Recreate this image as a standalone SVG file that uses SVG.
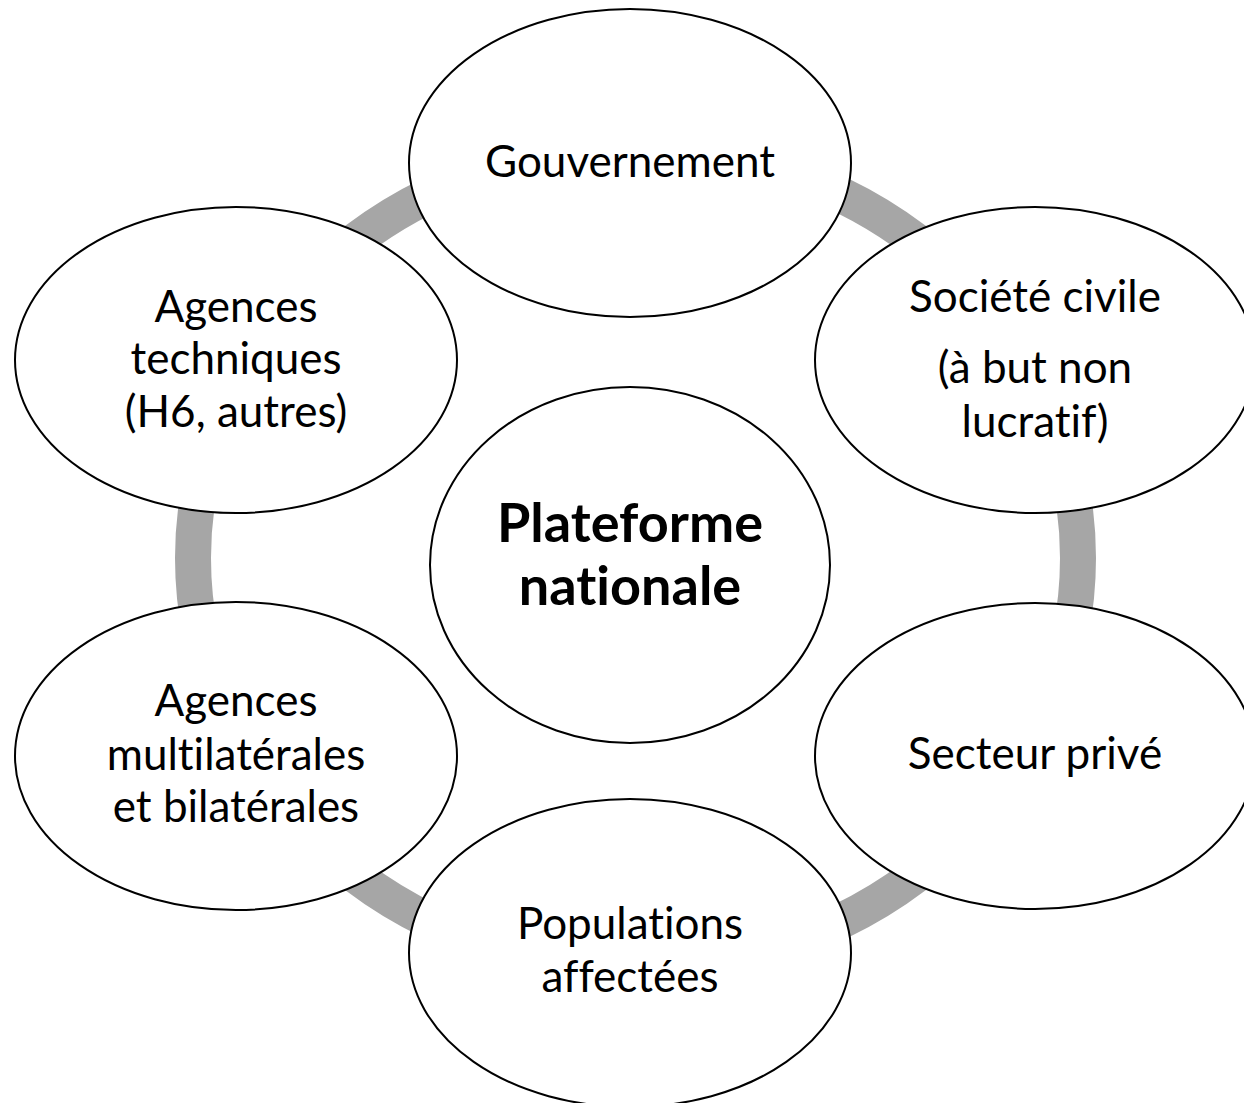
<svg xmlns="http://www.w3.org/2000/svg" width="1244" height="1103" viewBox="0 0 1244 1103">
<style>
.ring{fill:none;stroke:#a6a6a6;stroke-width:36}
.node{fill:#ffffff;stroke:#000000;stroke-width:2}
.lbl{font-family:Lato,"Liberation Sans",sans-serif;font-size:44px;fill:#000000;text-anchor:middle;font-variant-ligatures:none;font-feature-settings:"liga" 0,"clig" 0}
.bold{font-weight:bold;font-size:54px}
</style>
<rect width="1244" height="1103" fill="#ffffff"/>
<g id="connectors">
<ellipse class="ring" cx="635.5" cy="558" rx="442.5" ry="410"/>
</g>
<g id="node-gouvernement">
<ellipse class="node" cx="630" cy="163" rx="221" ry="154"/>
<text class="lbl" x="630" y="177">Gouvernement</text>
</g>
<g id="node-societe-civile">
<ellipse class="node" cx="1035" cy="360" rx="220" ry="153"/>
<text class="lbl" x="1035" y="312">Société civile</text>
<text class="lbl" x="1035" y="383">(à but non</text>
<text class="lbl" x="1035" y="437">lucratif)</text>
</g>
<g id="node-secteur-prive">
<ellipse class="node" cx="1035" cy="756" rx="220" ry="153"/>
<text class="lbl" x="1035" y="769">Secteur privé</text>
</g>
<g id="node-populations">
<ellipse class="node" cx="630" cy="953" rx="221" ry="154"/>
<text class="lbl" x="630" y="939">Populations</text>
<text class="lbl" x="630" y="992">affectées</text>
</g>
<g id="node-multilaterales">
<ellipse class="node" cx="236" cy="756" rx="221" ry="154"/>
<text class="lbl" x="236" y="716">Agences</text>
<text class="lbl" x="236" y="770">multilatérales</text>
<text class="lbl" x="236" y="822">et bilatérales</text>
</g>
<g id="node-techniques">
<ellipse class="node" cx="236" cy="360" rx="221" ry="153"/>
<text class="lbl" x="236" y="322">Agences</text>
<text class="lbl" x="236" y="374">techniques</text>
<text class="lbl" x="236" y="427">(H6, autres)</text>
</g>
<g id="node-plateforme">
<ellipse class="node" cx="630" cy="565" rx="200" ry="178"/>
<text class="lbl bold" x="630" y="542">Plateforme</text>
<text class="lbl bold" x="630" y="605">nationale</text>
</g>
</svg>
